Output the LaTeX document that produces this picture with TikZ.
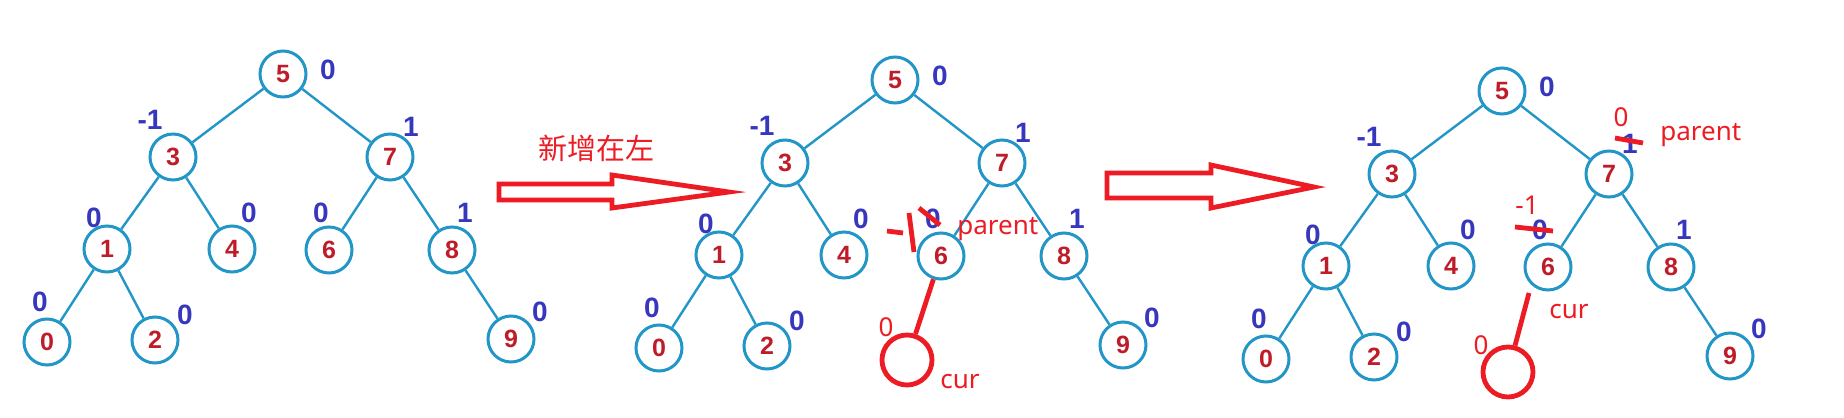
\documentclass[tikz,border=0pt]{standalone}
\usepackage{fontspec}
\setmainfont{Noto Sans}
\newfontfamily\numfont{Liberation Sans}
\newfontfamily\cjk{Noto Sans CJK SC}
\definecolor{treeblue}{RGB}{35,150,200}
\definecolor{keyred}{RGB}{190,28,40}
\definecolor{balblue}{RGB}{55,55,190}
\definecolor{penred}{RGB}{237,28,36}
\tikzset{
  treenode/.style={circle, draw=treeblue, line width=1.5pt, minimum size=23pt,
    inner sep=0pt, text=keyred, font=\numfont\fontsize{12.5}{14}\selectfont\bfseries},
  treeedge/.style={treeblue, line width=1.2pt},
  bal/.style={text=balblue, font=\numfont\fontsize{14}{16}\selectfont\bfseries, inner sep=0pt},
  penline/.style={penred, line width=2.4pt},
  pentext/.style={text=penred, font=\fontsize{13}{15}\selectfont, inner sep=0pt},
  curnode/.style={circle, draw=penred, line width=2.4pt, minimum size=25pt, inner sep=0pt}
}
% one AVL tree with its balance factors; #1 prefixes the node names
\newcommand{\avltree}[1]{%
  \node[treenode] (#1n5) at (283,74) {5};
  \node[treenode] (#1n3) at (173,157) {3};
  \node[treenode] (#1n7) at (390,157) {7};
  \node[treenode] (#1n1) at (107,249) {1};
  \node[treenode] (#1n4) at (232,249) {4};
  \node[treenode] (#1n6) at (329,250) {6};
  \node[treenode] (#1n8) at (452,250) {8};
  \node[treenode] (#1n0) at (47,342) {0};
  \node[treenode] (#1n2) at (155,340) {2};
  \node[treenode] (#1n9) at (511,339) {9};
  \draw[treeedge] (#1n5) -- (#1n3);
  \draw[treeedge] (#1n5) -- (#1n7);
  \draw[treeedge] (#1n3) -- (#1n1);
  \draw[treeedge] (#1n3) -- (#1n4);
  \draw[treeedge] (#1n7) -- (#1n6);
  \draw[treeedge] (#1n7) -- (#1n8);
  \draw[treeedge] (#1n1) -- (#1n0);
  \draw[treeedge] (#1n1) -- (#1n2);
  \draw[treeedge] (#1n8) -- (#1n9);
  \node[bal] (#1b5) at (328,70) {0};
  \node[bal] (#1b3) at (150,120) {-1};
  \node[bal] (#1b7) at (411,127) {1};
  \node[bal] (#1b1) at (94,218) {0};
  \node[bal] (#1b4) at (249,213) {0};
  \node[bal] (#1b6) at (321,213) {0};
  \node[bal] (#1b8) at (465,213) {1};
  \node[bal] (#1b0) at (40,302) {0};
  \node[bal] (#1b2) at (185,315) {0};
  \node[bal] (#1b9) at (540,312) {0};
}

\begin{document}
\begin{tikzpicture}[x=0.5pt,y=-0.5pt]
\fill[white] (0,0) rectangle (1844,418);
\useasboundingbox (0,0) rectangle (1844,418);

\avltree{a}
\begin{scope}[shift={(612,6)}]
\avltree{b}
\end{scope}
\begin{scope}[shift={(1219,17)}]
\avltree{c}
\end{scope}

% big hollow arrows
\node[pentext, font=\cjk\fontsize{14.5}{16}\selectfont] (addleft) at (596,148) {新增在左};
\draw[penline] (499,184) -- (612,184) -- (612,175) -- (729,192) -- (612,208) -- (612,200) -- (499,200) -- cycle;
\draw[penline] (1107,173) -- (1211,173) -- (1211,165) -- (1314,187) -- (1211,208) -- (1211,198) -- (1107,198) -- cycle;

% middle tree: insert as left child of 6
\node[curnode] (bcur) at (907,360) {};
\draw[penline] (bn6) -- (bcur);
\node[pentext] (bcurzero) at (886,327) {0};
\node[pentext, anchor=base west] (bcurtext) at (940,388) {cur};
\node[pentext, anchor=base west] (bparent) at (957,234) {parent};
\draw[penline] (887,231) -- (903,233);
\draw[penline] (909,213) -- (914,252);
\draw[penline] (919,208) -- (940,225);

% right tree: balance factors updated up to 7
\node[curnode] (ccur) at (1508,372) {};
\coordinate (ccurtop) at (1529,293);
\draw[penline] (ccurtop) -- (ccur);
\node[pentext] (ccurzero) at (1481,345) {0};
\node[pentext, anchor=base west] (ccurtext) at (1549,318) {cur};
\node[pentext] (csixnew) at (1527,205) {-1};
\draw[penline] (1515,227) -- (1553,231);
\node[pentext] (csevennew) at (1621,117) {0};
\draw[penline] (1615,138) -- (1643,143);
\node[pentext, anchor=base west] (cparent) at (1660,140) {parent};
\end{tikzpicture}
\end{document}
